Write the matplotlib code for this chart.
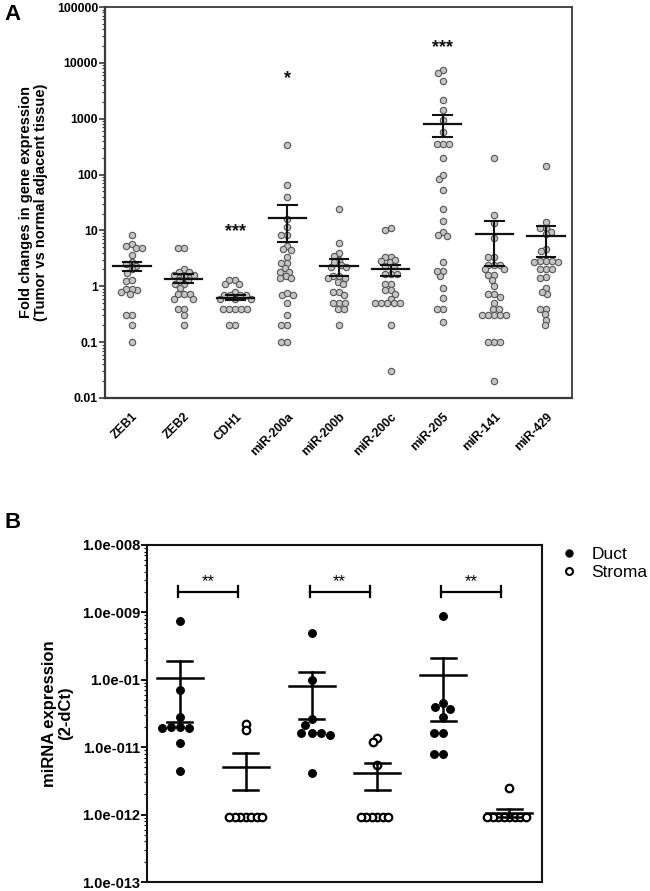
import numpy as np
import matplotlib
matplotlib.use('Agg')
import matplotlib.pyplot as plt
from matplotlib.ticker import LogLocator, NullFormatter, FixedLocator, FixedFormatter
from matplotlib.lines import Line2D

plt.rcParams['font.family'] = ['Liberation Sans', 'DejaVu Sans']

# ---------------- Panel A data ----------------
a_categories = ['ZEB1', 'ZEB2', 'CDH1', 'miR-200a', 'miR-200b', 'miR-200c', 'miR-205', 'miR-141', 'miR-429']
zeb1 = [8.3, 5.6, 4.8, 5.2, 4.8, 3.7, 2.7, 2.5, 2.3, 2.0, 1.75, 1.25, 1.3, 0.85, 0.9, 0.9, 0.8, 0.72, 0.3, 0.3, 0.2, 0.1]
zeb2 = [4.9, 4.9, 2.0, 1.8, 1.8, 1.6, 1.6, 1.5, 1.3, 1.3, 1.1, 1.1, 0.92, 0.72, 0.72, 0.72, 0.6, 0.6, 0.4, 0.4, 0.3, 0.2]
cdh1 = [1.3, 1.3, 1.1, 1.1, 0.8, 0.7, 0.7, 0.7, 0.7, 0.6, 0.6, 0.6, 0.4, 0.4, 0.4, 0.4, 0.4, 0.2, 0.2]
mir200a = [340, 64, 40, 16, 11.5, 8.2, 8.2, 5.3, 4.5, 4.6, 3.4, 2.6, 2.6, 2.1, 1.8, 1.8, 1.5, 1.4, 1.4,
           0.7, 0.75, 0.7, 0.5, 0.3, 0.2, 0.2, 0.1, 0.1]
mir200b = [24, 5.9, 3.9, 3.5, 3.0, 2.7, 2.4, 2.2, 2.2, 1.5, 1.4, 1.5, 1.4, 1.2, 1.1, 0.8, 0.7, 0.8,
           0.5, 0.5, 0.5, 0.4, 0.4, 0.2]
mir200c = [11, 10, 3.4, 3.3, 2.7, 2.8, 2.9, 2.3, 2.3, 1.65, 1.65, 1.65, 1.1, 1.1, 0.85, 0.72, 0.85,
           0.6, 0.5, 0.5, 0.5, 0.5, 0.5, 0.2, 0.03]
mir205 = [7400, 6500, 4800, 2200, 1450, 960, 580, 350, 350, 350, 200, 85, 100, 53, 24, 15, 9.4, 8, 8.2,
          2.7, 1.9, 1.55, 1.9, 0.92, 0.62, 0.4, 0.4, 0.23]
mir141 = [196, 18.7, 13.5, 7.2, 3.4, 3.3, 2.4, 2.4, 2.4, 2.0, 2.0, 1.6, 1.6, 1.3, 1.0, 0.72, 0.72, 0.65,
          0.5, 0.4, 0.4, 0.3, 0.3, 0.3, 0.3, 0.3, 0.1, 0.1, 0.1, 0.02]
mir429 = [140, 14.4, 11, 11, 9.5, 8.5, 4.6, 4.2, 2.8, 2.8, 2.7, 2.7, 2.8, 2.0, 2.0, 2.0, 1.45, 1.4,
          0.92, 0.72, 0.8, 0.4, 0.4, 0.32, 0.25, 0.2]
a_series = [zeb1, zeb2, cdh1, mir200a, mir200b, mir200c, mir205, mir141, mir429]
a_means = [2.31, 1.37, 0.627, 16.7, 2.31, 2.0, 800, 8.55, 7.8]
a_sem_hi = [2.77, 1.64, 0.69, 28, 3.05, 2.38, 1160, 14.6, 12.0]
a_sem_lo = [1.88, 1.13, 0.56, 6.1, 1.53, 1.53, 470, 2.31, 3.35]
a_star_cats = ['CDH1', 'miR-200a', 'miR-205']
a_star_text = ['***', '*', '***']
a_star_y = [9.7, 5300, 19000]
a_yticks = [0.01, 0.1, 1, 10, 100, 1000, 10000, 100000]
a_yticklabels = ['0.01', '0.1', '1', '10', '100', '1000', '10000', '100000']

# ---------------- Panel B data ----------------
b_groups = ['Duct', 'Stroma', 'Duct', 'Stroma', 'Duct', 'Stroma']
duct1 = [7.5e-10, 7.1e-11, 2.8e-11, 2.0e-11, 1.9e-11, 1.9e-11, 2.0e-11, 1.17e-11, 4.5e-12]
stroma1 = [2.2e-11, 1.8e-11, 9.1e-13, 9.1e-13, 9.1e-13, 9.1e-13, 9.1e-13, 9.1e-13, 9.1e-13]
duct2 = [5.0e-10, 1.0e-10, 2.6e-11, 2.1e-11, 1.6e-11, 1.6e-11, 1.5e-11, 1.6e-11, 4.1e-12]
stroma2 = [1.35e-11, 1.2e-11, 5.5e-12, 9.1e-13, 9.1e-13, 9.1e-13, 9.1e-13, 9.1e-13, 9.1e-13]
duct3 = [8.7e-10, 4.6e-11, 3.9e-11, 3.7e-11, 2.8e-11, 1.6e-11, 1.6e-11, 7.9e-12, 7.9e-12]
stroma3 = [2.45e-12, 9.1e-13, 9.1e-13, 9.1e-13, 9.1e-13, 9.1e-13, 9.1e-13, 9.1e-13, 9.1e-13]
b_series = [duct1, stroma1, duct2, stroma2, duct3, stroma3]
b_means = [1.05e-10, 5.1e-12, 8.1e-11, 4.1e-12, 1.17e-10, 1.05e-12]
b_sem_hi = [1.9e-10, 8.1e-12, 1.3e-10, 5.9e-12, 2.1e-10, 1.2e-12]
b_sem_lo = [2.4e-11, 2.3e-12, 2.6e-11, 2.3e-12, 2.45e-11, 9.3e-13]
b_sig_y = 2.04e-9
b_sig_text = '**'
b_yticks = [1e-13, 1e-12, 1e-11, 1e-10, 1e-9, 1e-8]
b_yticklabels = ['1.0e-013', '1.0e-012', '1.0e-011', '1.0e-01', '1.0e-009', '1.0e-008']


def swarm_offsets(ax, x0, values, step_px, min_dist_px):
    vals = np.asarray(values, dtype=float)
    pts = ax.transData.transform(np.column_stack([np.full(len(vals), x0), vals]))
    order = np.argsort(-vals, kind='stable')
    placed = []
    offs = np.zeros(len(vals))
    cands = [0]
    for j in range(1, 200):
        cands += [-j, j]
    for i in order:
        y = pts[i, 1]
        for c in cands:
            dx = c * step_px
            if all((dx - px) ** 2 + (y - py) ** 2 >= min_dist_px ** 2 for px, py in placed):
                break
        placed.append((dx, y))
        offs[i] = dx
    unit = ax.transData.transform([[1, 1]])[0, 0] - ax.transData.transform([[0, 1]])[0, 0]
    return offs / unit


fig = plt.figure(figsize=(6.5, 8.91), dpi=100)

# ================= Panel A =================
W, H = 650, 891
axA = fig.add_axes([105 / W, 1 - 398 / H, 467 / W, 391 / H])
axA.set_yscale('log')
axA.set_ylim(0.01, 100000)
axA.set_xlim(-0.52, 8.5)
spine_col = '#3a3a3a'
for s in axA.spines.values():
    s.set_color(spine_col)
    s.set_linewidth(1.3)
axA.spines['left'].set_linewidth(1.6)
axA.spines['bottom'].set_linewidth(1.6)

for i, vals in enumerate(a_series):
    offs = swarm_offsets(axA, i, vals, 0.5, 5.6)
    axA.plot(i + offs, vals, 'o', ms=4.6, mfc='#c4c4c4', mec='#555555', mew=0.8, ls='none', zorder=3)
    axA.plot([i, i], [a_sem_lo[i], a_sem_hi[i]], color='#111111', lw=1.5, zorder=4)
    axA.plot([i - 0.36, i + 0.36], [a_means[i], a_means[i]], color='#111111', lw=1.6, zorder=4)
    for v in (a_sem_lo[i], a_sem_hi[i]):
        axA.plot([i - 0.18, i + 0.18], [v, v], color='#111111', lw=1.5, zorder=4)

for cat, txt, yv in zip(a_star_cats, a_star_text, a_star_y):
    axA.text(a_categories.index(cat), yv, txt, ha='center', va='center', fontsize=13,
             fontweight='bold', color='#111111')

axA.yaxis.set_major_locator(FixedLocator(a_yticks))
axA.yaxis.set_major_formatter(FixedFormatter(a_yticklabels))
axA.yaxis.set_minor_locator(LogLocator(base=10, subs=np.arange(2, 10), numticks=20))
axA.yaxis.set_minor_formatter(NullFormatter())
axA.tick_params(axis='y', which='major', length=4, width=1.2, color=spine_col, labelsize=8.8, pad=1)
axA.tick_params(axis='y', which='minor', length=2.2, width=0.8, color=spine_col)
for lab in axA.get_yticklabels():
    lab.set_fontweight('bold')
axA.set_xticks(range(len(a_categories)))
axA.set_xticklabels(a_categories, rotation=45, ha='right', rotation_mode='anchor',
                    fontsize=8.8, fontweight='bold')
axA.tick_params(axis='x', length=0, pad=9)
axA.set_ylabel('Fold changes in gene expression\n(Tumor vs normal adjacent tissue)',
               fontsize=10.5, fontweight='bold', labelpad=6, linespacing=1.15)

fig.text(4 / W, 1 - 4 / H, 'A', fontsize=16, fontweight='bold', ha='left', va='top')

# ================= Panel B =================
axB = fig.add_axes([147 / W, 1 - 882 / H, 395 / W, 337 / H])
axB.set_yscale('log')
axB.set_ylim(1e-13, 1e-8)
axB.set_xlim(-0.5, 5.5)
for s in axB.spines.values():
    s.set_color('#111111')
    s.set_linewidth(1.5)

for i, vals in enumerate(b_series):
    duct = b_groups[i] == 'Duct'
    if duct:
        offs = swarm_offsets(axB, i, vals, 0.5, 9.0)
        axB.plot(i + offs, vals, 'o', ms=5.6, mfc='black', mec='black', mew=0.8, ls='none', zorder=3)
    else:
        offs = swarm_offsets(axB, i, vals, 0.5, 5.2)
        axB.plot(i + offs, vals, 'o', ms=5.4, mfc='white', mec='black', mew=1.6, ls='none', zorder=3)
    axB.plot([i, i], [b_sem_lo[i], b_sem_hi[i]], color='black', lw=1.8, zorder=4)
    axB.plot([i - 0.35, i + 0.35], [b_means[i], b_means[i]], color='black', lw=1.8, zorder=4)
    for v in (b_sem_lo[i], b_sem_hi[i]):
        axB.plot([i - 0.19, i + 0.19], [v, v], color='black', lw=1.8, zorder=4)

for k in range(0, len(b_series), 2):
    x0, x1 = k - 0.03, k + 0.88
    axB.plot([x0, x1], [b_sig_y, b_sig_y], color='black', lw=1.6)
    for xx in (x0, x1):
        axB.plot([xx, xx], [b_sig_y * 0.82, b_sig_y * 1.22], color='black', lw=1.6)
    axB.text((x0 + x1) / 2, b_sig_y * 1.38, b_sig_text, ha='center', va='center', fontsize=12, color='black')

axB.yaxis.set_major_locator(FixedLocator(b_yticks))
axB.yaxis.set_major_formatter(FixedFormatter(b_yticklabels))
axB.yaxis.set_minor_locator(LogLocator(base=10, subs=np.arange(2, 10), numticks=20))
axB.yaxis.set_minor_formatter(NullFormatter())
axB.tick_params(axis='y', which='major', length=4, width=1.3, labelsize=10.5, pad=1)
axB.tick_params(axis='y', which='minor', length=2.2, width=0.8)
for lab in axB.get_yticklabels():
    lab.set_fontweight('bold')
axB.set_xticks([])
axB.set_ylabel('miRNA expression\n(2-dCt)', fontsize=12, fontweight='bold', labelpad=6, linespacing=1.1)

fig.text(4 / W, 1 - 512 / H, 'B', fontsize=16, fontweight='bold', ha='left', va='top')

handles = [Line2D([], [], marker='o', ls='none', ms=5, mfc='black', mec='black'),
           Line2D([], [], marker='o', ls='none', ms=5, mfc='white', mec='black', mew=1.5)]
fig.legend(handles, ['Duct', 'Stroma'], loc='upper left', bbox_to_anchor=(562 / W, 1 - 547 / H),
           frameon=False, fontsize=12.5, handlelength=0.8, handletextpad=0.9, labelspacing=0.15,
           borderaxespad=0, borderpad=0)

fig.savefig('out.png', dpi=100)
